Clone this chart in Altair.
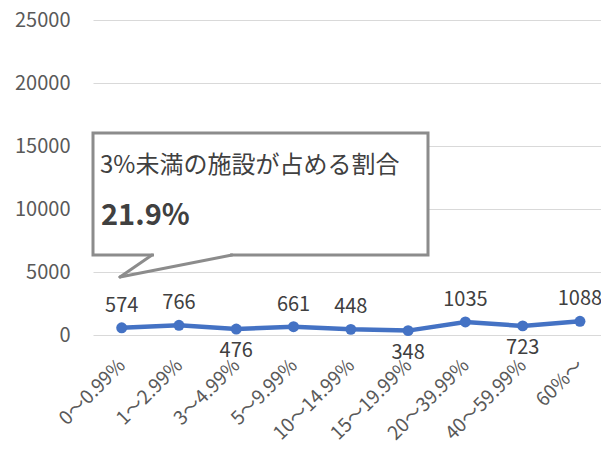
import altair as alt
import pandas as pd

categories = ["0～0.99%", "1～2.99%", "3～4.99%", "5～9.99%", "10～14.99%",
              "15～19.99%", "20～39.99%", "40～59.99%", "60%～"]
counts = [574, 766, 476, 661, 448, 348, 1035, 723, 1088]
below_labels = ["3～4.99%", "15～19.99%", "40～59.99%"]
y_ticks = [0, 5000, 10000, 15000, 20000, 25000]
callout_title = "3%未満の施設が占める割合"
callout_value = "21.9%"

FONT = "Noto Sans CJK JP"
BLUE = "#4472C4"
GREY_TXT = "#595959"
DARK_TXT = "#404040"
BOX = "#8c8c8c"

df = pd.DataFrame({"cat": categories, "n": counts})
df["side"] = ["below" if c in below_labels else "above" for c in categories]
ann = pd.DataFrame({"title": [callout_title], "value": [callout_value]})

x = alt.X("cat:N", sort=categories,
          scale=alt.Scale(type="point", padding=0.434, align=0.577),
          axis=alt.Axis(title=None, labelAngle=315, labelAlign="right",
                        labelBaseline="middle", labelPadding=27,
                        labelFontSize=19, labelColor=GREY_TXT, labelFont=FONT,
                        domain=False, ticks=False, grid=False))
y = alt.Y("n:Q", scale=alt.Scale(domain=[0, 25000], nice=False),
          axis=alt.Axis(title=None, values=y_ticks, format="d", labelFontSize=20,
                        labelColor=GREY_TXT, labelFont=FONT, labelPadding=23,
                        domain=False, ticks=False, gridColor="#d9d9d9",
                        gridWidth=1.2))

base = alt.Chart(df)
line = base.mark_line(color=BLUE, strokeWidth=4.5).encode(x=x, y=y)
pts = base.mark_circle(size=120, color=BLUE, opacity=1).encode(x=x, y=y)
txt_above = base.mark_text(dy=-22, fontSize=20, color=DARK_TXT, font=FONT).encode(
    x=x, y=y, text="n:Q").transform_filter(alt.datum.side == "above")
txt_below = base.mark_text(dy=22, fontSize=20, color=DARK_TXT, font=FONT).encode(
    x=x, y=y, text="n:Q").transform_filter(alt.datum.side == "below")

a = alt.Chart(ann)
box = a.mark_rect(fill="white", stroke=BOX, strokeWidth=3).encode(
    x=alt.value(0), x2=alt.value(335), y=alt.value(113), y2=alt.value(235))
cover = a.mark_rule(color="white", strokeWidth=4).encode(
    x=alt.value(61), x2=alt.value(137), y=alt.value(235), y2=alt.value(235))
tail1 = a.mark_rule(color=BOX, strokeWidth=3, strokeCap="round").encode(
    x=alt.value(59), x2=alt.value(27), y=alt.value(235), y2=alt.value(257))
tail2 = a.mark_rule(color=BOX, strokeWidth=3, strokeCap="round").encode(
    x=alt.value(27), x2=alt.value(139), y=alt.value(257), y2=alt.value(235))
t1 = a.mark_text(align="left", baseline="alphabetic", fontSize=24,
                 color=DARK_TXT, font=FONT).encode(
    x=alt.value(7), y=alt.value(153), text="title:N")
t2 = a.mark_text(align="left", baseline="alphabetic", fontSize=29,
                 fontWeight="bold", color=DARK_TXT, font=FONT).encode(
    x=alt.value(8), y=alt.value(205), text="value:N")

chart = alt.layer(line, pts, txt_above, txt_below, box, cover, tail1, tail2, t1, t2).properties(
    width=508, height=315,
    autosize=alt.AutoSizeParams(type="none"),
    padding={"left": 85, "top": 12, "right": 0, "bottom": 113},
    background="white",
).configure_view(stroke=None)

chart.save("out.html", embed_options={"renderer": "svg", "actions": False})
